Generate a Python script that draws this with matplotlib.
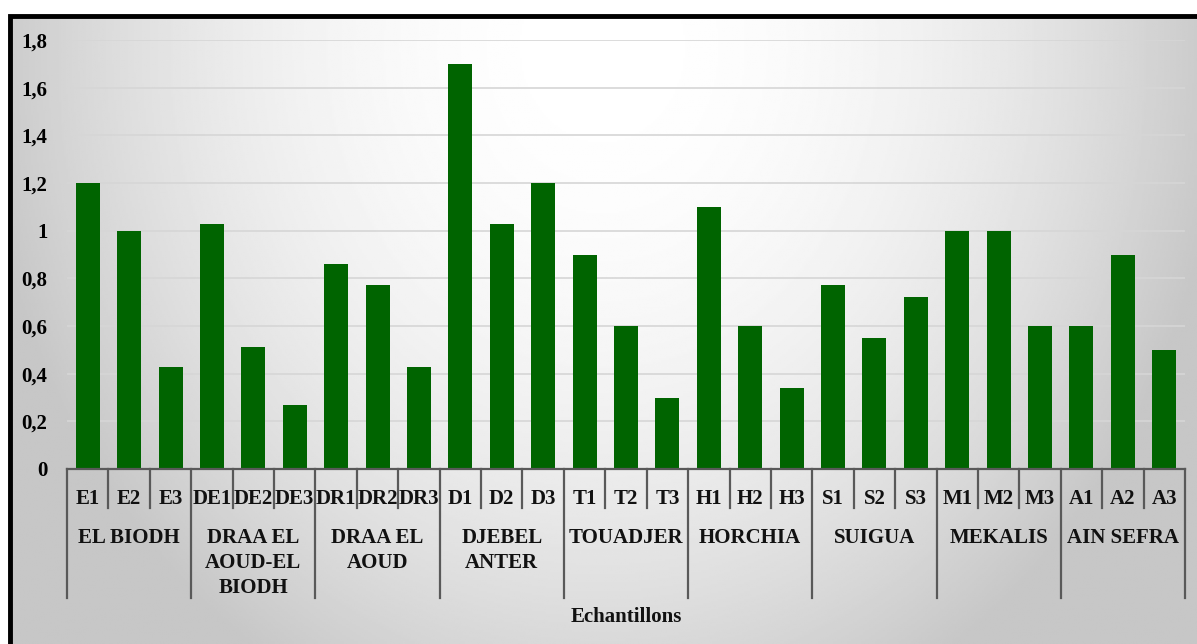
import matplotlib.pyplot as plt
import matplotlib.transforms as mtransforms
from matplotlib.patches import Rectangle
import numpy as np

samples = ['E1', 'E2', 'E3', 'DE1', 'DE2', 'DE3', 'DR1', 'DR2', 'DR3',
           'D1', 'D2', 'D3', 'T1', 'T2', 'T3', 'H1', 'H2', 'H3',
           'S1', 'S2', 'S3', 'M1', 'M2', 'M3', 'A1', 'A2', 'A3']
values = [1.2, 1.0, 0.43, 1.03, 0.51, 0.27, 0.86, 0.77, 0.43,
          1.7, 1.03, 1.2, 0.9, 0.6, 0.3, 1.1, 0.6, 0.34,
          0.77, 0.55, 0.72, 1.0, 1.0, 0.6, 0.6, 0.9, 0.5]
groups = [['EL BIODH'], ['DRAA EL', 'AOUD-EL', 'BIODH'], ['DRAA EL', 'AOUD'],
          ['DJEBEL', 'ANTER'], ['TOUADJER'], ['HORCHIA'], ['SUIGUA'],
          ['MEKALIS'], ['AIN SEFRA']]
yticks = [0, 0.2, 0.4, 0.6, 0.8, 1.0, 1.2, 1.4, 1.6, 1.8]
ytick_labels = ['0', '0,2', '0,4', '0,6', '0,8', '1', '1,2', '1,4', '1,6', '1,8']

W, H = 1197, 644
plt.rcParams['font.family'] = ['Liberation Serif', 'DejaVu Serif']
plt.rcParams['font.weight'] = 'bold'
fs = 15

fig = plt.figure(figsize=(W / 100, H / 100), dpi=100, facecolor='white')

# gradient background inside the black frame
bg = fig.add_axes([8 / W, 0, 1 - 8 / W, 1 - 15 / H])
yy, xx = np.mgrid[0:1:300j, 0:1:600j]
r2 = ((xx - 0.5) / 0.5) ** 2 + ((yy - 0.05) / 1.1) ** 2
grad = np.clip(1.0 - 0.2 * r2, 0.78, 1)
bg.imshow(grad, cmap='gray', vmin=0, vmax=1, aspect='auto', extent=[0, 1, 1, 0])
bg.set_xlim(0, 1)
bg.set_ylim(1, 0)
bg.axis('off')
fig.add_artist(Rectangle((10 / W, -0.1), 1.2, 1.1 - 16.5 / H, fill=False,
                         edgecolor='black', lw=3.5, transform=fig.transFigure))


def fy(p):
    return 1 - p / H


ax = fig.add_axes([67 / W, fy(469), (1185 - 67) / W, (469 - 40) / H])
ax.patch.set_alpha(0)
x = np.arange(len(samples))
ax.bar(x, values, width=0.58, color='#006400', zorder=3)
ax.set_xlim(-0.5, len(samples) - 0.5)
ax.set_ylim(0, 1.8)
ax.set_yticks(yticks)
ax.set_yticklabels(ytick_labels, fontsize=fs, fontweight='bold')
ax.tick_params(axis='y', length=0, pad=14)
ax.set_xticks([])
ax.grid(axis='y', color='#d6d6d6', lw=1.2, zorder=0)
for s in ['top', 'right', 'left']:
    ax.spines[s].set_visible(False)
ax.spines['bottom'].set_color('#595959')
ax.spines['bottom'].set_linewidth(1.6)
ax.spines['bottom'].set_zorder(4)

trans = mtransforms.blended_transform_factory(ax.transData, fig.transFigure)
for i, s in enumerate(samples):
    ax.text(i, fy(504), s, transform=trans, ha='center', va='baseline',
            fontsize=fs, fontweight='bold', color='#111111')
for i in range(1, len(samples)):
    if i % 3 == 0:
        continue
    ax.plot([i - 0.5, i - 0.5], [fy(469), fy(508)], transform=trans,
            color='#595959', lw=1.6, clip_on=False)
for g in range(len(groups) + 1):
    ax.plot([g * 3 - 0.5, g * 3 - 0.5], [fy(469), fy(598)], transform=trans,
            color='#595959', lw=1.6, clip_on=False)
for g, lines in enumerate(groups):
    for k, line in enumerate(lines):
        ax.text(g * 3 + 1, fy(543 + 25 * k), line, transform=trans, ha='center',
                va='baseline', fontsize=fs, fontweight='bold', color='#111111')

fig.text(626 / W, fy(622), 'Echantillons', ha='center', va='baseline',
         fontsize=fs, fontweight='bold', color='#111111')

fig.savefig('out.png', dpi=100, facecolor='white')
